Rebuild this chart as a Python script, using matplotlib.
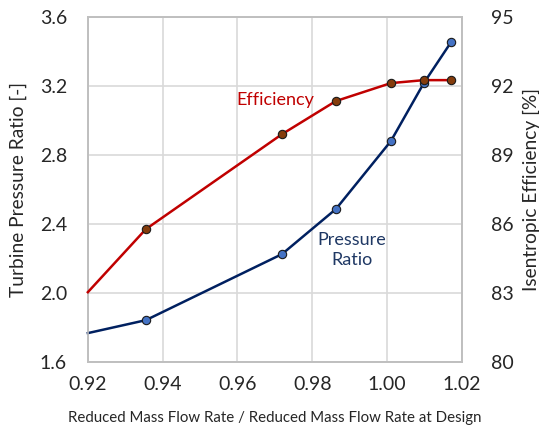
import numpy as np
import matplotlib.pyplot as plt

# datos
flow = [0.920, 0.9355, 0.9719, 0.9863, 1.0010, 1.0098, 1.0171]
pr = [1.768, 1.843, 2.226, 2.487, 2.881, 3.217, 3.455]
flow_eff = [0.920, 0.9355, 0.9719, 0.9863, 1.0010, 1.0098, 1.0171]
eff = [83.04, 85.78, 89.91, 91.35, 92.13, 92.26, 92.26]

xticks = [0.92, 0.94, 0.96, 0.98, 1.00, 1.02]
yticks_l = [1.6, 2.0, 2.4, 2.8, 3.2, 3.6]
yticks_r = [80, 83, 86, 89, 92, 95]

plt.rcParams['font.family'] = ['Lato', 'DejaVu Sans']

fig = plt.figure(figsize=(5.39, 4.28), dpi=100)
ax = fig.add_axes([0.163, 0.154, 0.694, 0.806])
ax2 = ax.twinx()

ax.plot(flow, pr, color='#002060', lw=1.8, marker='o', markevery=range(1, len(flow)),
        ms=6, mfc='#4472C4', mec='#1a1a1a', mew=0.8, zorder=3, clip_on=False)
ax2.plot(flow_eff, eff, color='#C00000', lw=1.8, marker='o', markevery=range(1, len(flow_eff)),
         ms=6, mfc='#843C0C', mec='#1a1a1a', mew=0.8, zorder=3, clip_on=False)

ax.set_xlim(0.92, 1.02)
ax.set_ylim(1.6, 3.6)
ax2.set_ylim(80, 95)
ax.set_xticks(xticks)
ax.set_xticklabels(['%.2f' % v for v in xticks])
ax.set_yticks(yticks_l)
ax.set_yticklabels(['%.1f' % v for v in yticks_l])
ax2.set_yticks(yticks_r)

ax.grid(True, color='#d9d9d9', lw=1.2)
ax.set_axisbelow(True)
for a in (ax, ax2):
    for s in a.spines.values():
        s.set_color('#bfbfbf')
        s.set_linewidth(1.2)
    a.tick_params(length=0, labelsize=14, colors='#262626')
ax.tick_params(axis='x', pad=10)
ax.tick_params(axis='y', pad=15)
ax2.tick_params(axis='y', pad=21)

ax.set_xlabel('Reduced Mass Flow Rate / Reduced Mass Flow Rate at Design',
              fontsize=10.8, color='#262626', labelpad=13)
ax.set_ylabel('Turbine Pressure Ratio [-]', fontsize=13.8, color='#262626', labelpad=9)
ax2.set_ylabel('Isentropic Efficiency [%]', fontsize=13.8, color='#262626', labelpad=6)

ax.text(0.970, 3.12, 'Efficiency', color='#C00000', fontsize=13, ha='center', va='center')
ax.text(0.9905, 2.25, 'Pressure\nRatio', color='#1F3864', fontsize=13, ha='center',
        va='center', linespacing=1.3)

fig.savefig('out.png', dpi=100)
